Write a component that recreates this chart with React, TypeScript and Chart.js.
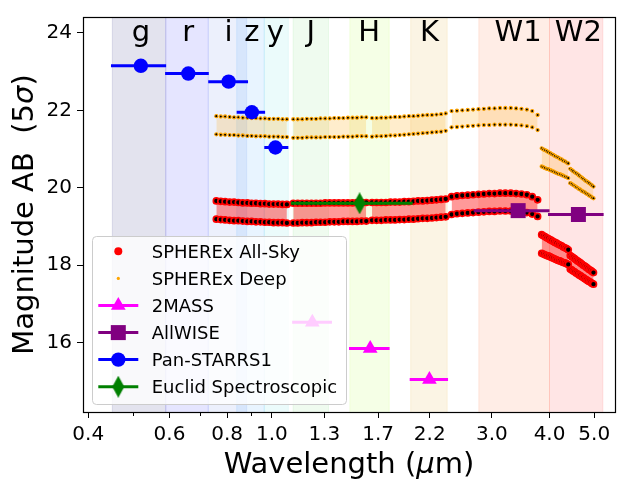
import React, { useEffect, useRef } from "react";
import { Chart, registerables } from "chart.js";

Chart.register(...registerables);

// ---------- axes ----------
const X_RANGE = [0.3896, 5.546];
const Y_RANGE = [14.21, 24.41];
const X_TICKS = [0.4, 0.6, 0.8, 1.0, 1.3, 1.7, 2.2, 3.0, 4.0, 5.0];
const X_MINOR_TICKS = [0.5, 0.7, 0.9];
const Y_TICKS = [16, 18, 20, 22, 24];
const X_TITLE = ["Wavelength (", "μ", "m)"];
const Y_TITLE = ["Magnitude AB  (5", "σ", ")"];

// ---------- filter bands ----------
const FILTER_NAMES = ["g", "r", "i", "z", "y", "J", "H", "K", "W1", "W2"];
const FILTER_LABEL_WL = [0.52, 0.659, 0.806, 0.905, 1.018, 1.215, 1.625, 2.196, 3.42, 4.62];
const FILTER_LABEL_MAG = 23.79;
const FILTER_LO = [0.451, 0.589, 0.728, 0.839, 0.963, 1.112, 1.476, 2.0, 2.81, 4.0];
const FILTER_HI = [0.589, 0.728, 0.882, 0.963, 1.086, 1.327, 1.797, 2.4, 4.0, 5.22];
const FILTER_COLORS = [
  "rgba(25,25,112,0.12)",
  "rgba(0,0,255,0.10)",
  "rgba(65,105,225,0.10)",
  "rgba(30,144,255,0.10)",
  "rgba(0,206,209,0.08)",
  "rgba(50,205,50,0.08)",
  "rgba(173,255,47,0.12)",
  "rgba(218,165,32,0.12)",
  "rgba(255,110,50,0.12)",
  "rgba(255,0,0,0.10)",
];

// ---------- photometric surveys ----------
const PS_WL = [0.52, 0.659, 0.806, 0.905, 1.018];
const PS_LO = [0.448, 0.587, 0.728, 0.839, 0.963];
const PS_HI = [0.59, 0.73, 0.888, 0.967, 1.086];
const PS_MAG = [23.15, 22.95, 22.74, 21.95, 21.04];

const TM_WL = [1.224, 1.634, 2.196];
const TM_LO = [1.107, 1.47, 1.99];
const TM_HI = [1.35, 1.8, 2.41];
const TM_MAG = [16.53, 15.85, 15.05];

const WISE_WL = [3.42, 4.62];
const WISE_LO = [2.74, 3.97];
const WISE_HI = [4.0, 5.24];
const WISE_MAG = [19.41, 19.31];

const EUCLID_WL = [1.55];
const EUCLID_LO = [1.1];
const EUCLID_HI = [2.02];
const EUCLID_MAG = [19.6];

// ---------- SPHEREx channels (6 bands x 17 channels) ----------
const SPX_WL = [
  [0.758, 0.775, 0.792, 0.81, 0.828, 0.846, 0.865, 0.885, 0.904, 0.924, 0.945, 0.966, 0.987, 1.009, 1.032, 1.055, 1.078],
  [1.113, 1.138, 1.164, 1.191, 1.219, 1.247, 1.275, 1.305, 1.335, 1.366, 1.397, 1.429, 1.462, 1.496, 1.53, 1.566, 1.602],
  [1.649, 1.687, 1.727, 1.767, 1.808, 1.85, 1.893, 1.937, 1.982, 2.028, 2.075, 2.124, 2.173, 2.224, 2.275, 2.328, 2.382],
  [2.453, 2.52, 2.588, 2.659, 2.731, 2.805, 2.882, 2.96, 3.04, 3.123, 3.208, 3.296, 3.385, 3.477, 3.572, 3.669, 3.769],
  [3.846, 3.878, 3.91, 3.943, 3.976, 4.009, 4.042, 4.076, 4.11, 4.144, 4.179, 4.214, 4.249, 4.284, 4.32, 4.356, 4.392],
  [4.436, 4.468, 4.501, 4.533, 4.566, 4.6, 4.633, 4.667, 4.701, 4.735, 4.77, 4.804, 4.839, 4.874, 4.91, 4.945, 4.981],
];

const ALLSKY_HI = [
  [19.66, 19.65, 19.64, 19.63, 19.63, 19.62, 19.61, 19.61, 19.6, 19.6, 19.59, 19.59, 19.58, 19.58, 19.58, 19.57, 19.57],
  [19.6, 19.6, 19.6, 19.6, 19.6, 19.6, 19.6, 19.61, 19.61, 19.61, 19.61, 19.61, 19.61, 19.61, 19.62, 19.62, 19.62],
  [19.62, 19.62, 19.62, 19.62, 19.63, 19.63, 19.63, 19.64, 19.64, 19.65, 19.66, 19.66, 19.67, 19.68, 19.69, 19.7, 19.71],
  [19.77, 19.79, 19.8, 19.81, 19.82, 19.83, 19.84, 19.85, 19.85, 19.86, 19.86, 19.86, 19.85, 19.84, 19.82, 19.77, 19.69],
  [18.79, 18.76, 18.74, 18.71, 18.69, 18.66, 18.64, 18.61, 18.59, 18.57, 18.54, 18.52, 18.5, 18.47, 18.45, 18.43, 18.4],
  [18.25, 18.22, 18.2, 18.17, 18.14, 18.11, 18.09, 18.06, 18.03, 18.0, 17.98, 17.95, 17.92, 17.89, 17.87, 17.84, 17.81],
];
const ALLSKY_LO = [
  [19.19, 19.18, 19.17, 19.16, 19.15, 19.15, 19.14, 19.13, 19.13, 19.12, 19.12, 19.11, 19.11, 19.1, 19.1, 19.1, 19.09],
  [19.09, 19.09, 19.1, 19.1, 19.1, 19.11, 19.11, 19.11, 19.12, 19.12, 19.12, 19.13, 19.13, 19.13, 19.13, 19.14, 19.14],
  [19.16, 19.16, 19.16, 19.17, 19.17, 19.17, 19.18, 19.18, 19.19, 19.19, 19.2, 19.21, 19.21, 19.22, 19.23, 19.24, 19.25],
  [19.31, 19.33, 19.34, 19.35, 19.36, 19.37, 19.38, 19.39, 19.39, 19.4, 19.4, 19.4, 19.39, 19.38, 19.36, 19.32, 19.26],
  [18.31, 18.29, 18.27, 18.25, 18.24, 18.22, 18.2, 18.18, 18.16, 18.14, 18.12, 18.11, 18.09, 18.07, 18.06, 18.04, 18.02],
  [17.9, 17.88, 17.85, 17.83, 17.8, 17.78, 17.75, 17.73, 17.7, 17.68, 17.65, 17.63, 17.6, 17.58, 17.56, 17.53, 17.51],
];
const DEEP_HI = [
  [21.85, 21.84, 21.84, 21.83, 21.82, 21.82, 21.81, 21.81, 21.8, 21.8, 21.79, 21.79, 21.78, 21.78, 21.78, 21.77, 21.77],
  [21.77, 21.77, 21.77, 21.78, 21.78, 21.78, 21.79, 21.79, 21.79, 21.8, 21.8, 21.8, 21.81, 21.81, 21.81, 21.82, 21.82],
  [21.8, 21.8, 21.81, 21.81, 21.82, 21.83, 21.83, 21.84, 21.85, 21.85, 21.86, 21.87, 21.88, 21.88, 21.89, 21.9, 21.92],
  [21.98, 21.99, 22.0, 22.01, 22.02, 22.03, 22.04, 22.05, 22.05, 22.06, 22.06, 22.06, 22.05, 22.04, 22.02, 21.98, 21.88],
  [21.02, 20.99, 20.97, 20.95, 20.92, 20.9, 20.87, 20.85, 20.82, 20.8, 20.78, 20.75, 20.73, 20.7, 20.68, 20.65, 20.63],
  [20.49, 20.46, 20.43, 20.4, 20.38, 20.35, 20.32, 20.29, 20.26, 20.23, 20.2, 20.17, 20.15, 20.12, 20.09, 20.06, 20.03],
];
const DEEP_LO = [
  [21.38, 21.37, 21.37, 21.36, 21.36, 21.35, 21.35, 21.34, 21.34, 21.33, 21.33, 21.33, 21.32, 21.32, 21.32, 21.31, 21.31],
  [21.29, 21.29, 21.29, 21.3, 21.3, 21.3, 21.3, 21.31, 21.31, 21.31, 21.31, 21.32, 21.32, 21.32, 21.33, 21.33, 21.33],
  [21.32, 21.33, 21.33, 21.34, 21.35, 21.35, 21.36, 21.37, 21.38, 21.39, 21.4, 21.41, 21.42, 21.43, 21.44, 21.45, 21.47],
  [21.56, 21.57, 21.58, 21.59, 21.6, 21.61, 21.62, 21.62, 21.63, 21.63, 21.63, 21.63, 21.62, 21.61, 21.59, 21.56, 21.49],
  [20.55, 20.53, 20.51, 20.49, 20.48, 20.46, 20.44, 20.42, 20.4, 20.38, 20.36, 20.35, 20.33, 20.31, 20.29, 20.27, 20.25],
  [20.12, 20.1, 20.07, 20.05, 20.02, 20.0, 19.97, 19.95, 19.92, 19.9, 19.88, 19.85, 19.83, 19.8, 19.78, 19.75, 19.73],
];

const LEGEND_LABELS = [
  "SPHEREx All-Sky",
  "SPHEREx Deep",
  "2MASS",
  "AllWISE",
  "Pan-STARRS1",
  "Euclid Spectroscopic",
];

// ---------- styles ----------
const FONT = "DejaVu Sans";
const C_ALLSKY = "#ff0000";
const C_DEEP = "#ffa500";
const C_TM = "#ff00ff";
const C_WISE = "#800080";
const C_PS = "#0000ff";
const C_EUCLID = "#008000";

function makeDiamond(w: number, h: number, color: string) {
  const c = document.createElement("canvas");
  c.width = w;
  c.height = h;
  const g = c.getContext("2d")!;
  g.fillStyle = color;
  g.beginPath();
  g.moveTo(w / 2, 0);
  g.lineTo(w, h / 2);
  g.lineTo(w / 2, h);
  g.lineTo(0, h / 2);
  g.closePath();
  g.fill();
  return c;
}

function drawMarker(ctx: CanvasRenderingContext2D, kind: string, x: number, y: number, color: string, diamond?: HTMLCanvasElement) {
  ctx.save();
  ctx.fillStyle = color;
  ctx.beginPath();
  if (kind === "circle") {
    ctx.arc(x, y, 7.2, 0, Math.PI * 2);
    ctx.fill();
  } else if (kind === "triangle") {
    const r = 8.5;
    let a = 0;
    ctx.moveTo(x + Math.sin(a) * r, y - Math.cos(a) * r);
    a += (2 * Math.PI) / 3;
    ctx.lineTo(x + Math.sin(a) * r, y - Math.cos(a) * r);
    a += (2 * Math.PI) / 3;
    ctx.lineTo(x + Math.sin(a) * r, y - Math.cos(a) * r);
    ctx.closePath();
    ctx.fill();
  } else if (kind === "rect") {
    ctx.fillRect(x - 7.5, y - 7.5, 15, 15);
  } else if (kind === "diamond" && diamond) {
    ctx.drawImage(diamond, x - diamond.width / 2, y - diamond.height / 2);
  }
  ctx.restore();
}

function drawParts(ctx: CanvasRenderingContext2D, parts: string[], size: number, cx: number, cy: number) {
  const fonts = parts.map((_, i) => (i === 1 ? `italic ${size}px ${FONT}` : `${size}px ${FONT}`));
  let total = 0;
  const widths = parts.map((p, i) => {
    ctx.font = fonts[i];
    const w = ctx.measureText(p).width;
    total += w;
    return w;
  });
  let x = cx - total / 2;
  ctx.textBaseline = "alphabetic";
  ctx.textAlign = "left";
  parts.forEach((p, i) => {
    ctx.font = fonts[i];
    ctx.fillText(p, x, cy);
    x += widths[i];
  });
}

export default function App() {
  const ref = useRef<HTMLCanvasElement>(null);

  useEffect(() => {
    document.body.style.margin = "0";
    const canvas = ref.current!;
    const diamond = makeDiamond(12, 22, C_EUCLID);

    const datasets: any[] = [];
    // SPHEREx Deep
    for (let b = 0; b < SPX_WL.length; b++) {
      datasets.push({
        data: SPX_WL[b].map((x, i) => ({ x, y: DEEP_HI[b][i] })),
        borderColor: "transparent",
        backgroundColor: "rgba(255,165,0,0.2)",
        fill: "+1",
        pointRadius: 1.6,
        pointBorderWidth: 1.1,
        pointBackgroundColor: "#000",
        pointBorderColor: C_DEEP,
        order: 20,
      });
      datasets.push({
        data: SPX_WL[b].map((x, i) => ({ x, y: DEEP_LO[b][i] })),
        borderColor: "transparent",
        fill: false,
        pointRadius: 1.6,
        pointBorderWidth: 1.1,
        pointBackgroundColor: "#000",
        pointBorderColor: C_DEEP,
        order: 20,
      });
    }
    // SPHEREx All-Sky
    for (let b = 0; b < SPX_WL.length; b++) {
      datasets.push({
        data: SPX_WL[b].map((x, i) => ({ x, y: ALLSKY_HI[b][i] })),
        borderColor: "transparent",
        backgroundColor: "rgba(255,0,0,0.4)",
        fill: "+1",
        pointRadius: 3.0,
        pointBorderWidth: 1.7,
        pointBackgroundColor: "#000",
        pointBorderColor: C_ALLSKY,
        order: 15,
      });
      datasets.push({
        data: SPX_WL[b].map((x, i) => ({ x, y: ALLSKY_LO[b][i] })),
        borderColor: "transparent",
        fill: false,
        pointRadius: 3.0,
        pointBorderWidth: 1.7,
        pointBackgroundColor: "#000",
        pointBorderColor: C_ALLSKY,
        order: 15,
      });
    }
    // error bars + markers
    const surveys = [
      { wl: EUCLID_WL, lo: EUCLID_LO, hi: EUCLID_HI, mag: EUCLID_MAG, color: C_EUCLID, style: diamond as any, radius: 11, barOrder: 10 },
      { wl: TM_WL, lo: TM_LO, hi: TM_HI, mag: TM_MAG, color: C_TM, style: "triangle", radius: 8.5, barOrder: 5 },
      { wl: WISE_WL, lo: WISE_LO, hi: WISE_HI, mag: WISE_MAG, color: C_WISE, style: "rect", radius: 10.6, barOrder: 5 },
      { wl: PS_WL, lo: PS_LO, hi: PS_HI, mag: PS_MAG, color: C_PS, style: "circle", radius: 7.2, barOrder: 5 },
    ];
    surveys.forEach((s) => {
      s.wl.forEach((_, i) => {
        datasets.push({
          data: [
            { x: s.lo[i], y: s.mag[i] },
            { x: s.hi[i], y: s.mag[i] },
          ],
          borderColor: s.color,
          borderWidth: 3,
          pointRadius: 0,
          fill: false,
          order: s.barOrder,
        });
      });
      datasets.push({
        data: s.wl.map((x, i) => ({ x, y: s.mag[i] })),
        showLine: false,
        borderColor: "transparent",
        pointStyle: s.style,
        pointRadius: s.radius,
        pointBorderWidth: 0,
        pointBackgroundColor: s.color,
        pointBorderColor: s.color,
        fill: false,
        order: 1,
      });
    });

    const decor = {
      id: "decor",
      beforeDraw(chart: any) {
        const { ctx, chartArea: a, scales } = chart;
        const xs = scales.x;
        ctx.save();
        ctx.beginPath();
        ctx.rect(a.left, a.top, a.right - a.left, a.bottom - a.top);
        ctx.clip();
        FILTER_LO.forEach((lo, i) => {
          const x0 = xs.getPixelForValue(lo);
          const x1 = xs.getPixelForValue(FILTER_HI[i]);
          ctx.fillStyle = FILTER_COLORS[i];
          ctx.fillRect(x0, a.top, x1 - x0, a.bottom - a.top);
          ctx.strokeStyle = FILTER_COLORS[i];
          ctx.lineWidth = 1;
          ctx.beginPath();
          ctx.moveTo(x0, a.top);
          ctx.lineTo(x0, a.bottom);
          ctx.moveTo(x1, a.top);
          ctx.lineTo(x1, a.bottom);
          ctx.stroke();
        });
        ctx.restore();
      },
      afterDatasetsDraw(chart: any) {
        const { ctx, scales } = chart;
        const xs = scales.x;
        const ys = scales.y;
        // filter names
        ctx.save();
        ctx.fillStyle = "#000";
        ctx.font = `29px ${FONT}`;
        ctx.textAlign = "center";
        ctx.textBaseline = "alphabetic";
        FILTER_NAMES.forEach((n, i) => {
          ctx.fillText(n, xs.getPixelForValue(FILTER_LABEL_WL[i]), ys.getPixelForValue(FILTER_LABEL_MAG));
        });
        ctx.restore();

        // legend
        ctx.save();
        const lx = 92.5, ly = 236.5, lw = 254, lh = 168;
        ctx.beginPath();
        (ctx as any).roundRect(lx, ly, lw, lh, 4);
        ctx.fillStyle = "rgba(255,255,255,0.8)";
        ctx.fill();
        ctx.strokeStyle = "#cccccc";
        ctx.lineWidth = 1;
        ctx.stroke();
        const rows = [251.3, 278.4, 305.6, 332.6, 359.6, 386.7];
        const hx0 = 98.3, hx1 = 138.3, hc = 118.3;
        // All-Sky
        ctx.fillStyle = C_ALLSKY;
        ctx.beginPath();
        ctx.arc(hc, rows[0], 4, 0, Math.PI * 2);
        ctx.fill();
        // Deep
        ctx.fillStyle = C_DEEP;
        ctx.beginPath();
        ctx.arc(hc, rows[1], 1.6, 0, Math.PI * 2);
        ctx.fill();
        const lineRows: [number, string, string][] = [
          [2, C_TM, "triangle"],
          [3, C_WISE, "rect"],
          [4, C_PS, "circle"],
          [5, C_EUCLID, "diamond"],
        ];
        lineRows.forEach(([r, c, k]) => {
          ctx.strokeStyle = c;
          ctx.lineWidth = 3;
          ctx.beginPath();
          ctx.moveTo(hx0, rows[r]);
          ctx.lineTo(hx1, rows[r]);
          ctx.stroke();
          drawMarker(ctx, k, hc, rows[r], c, diamond);
        });
        ctx.fillStyle = "#000";
        ctx.font = `18px ${FONT}`;
        ctx.textAlign = "left";
        ctx.textBaseline = "alphabetic";
        LEGEND_LABELS.forEach((t, i) => ctx.fillText(t, 151.7, rows[i] + 6.6));
        ctx.restore();
      },
      afterDraw(chart: any) {
        const { ctx, chartArea: a, scales } = chart;
        const xs = scales.x;
        ctx.save();
        // frame
        ctx.strokeStyle = "#000";
        ctx.lineWidth = 1.2;
        ctx.strokeRect(Math.round(a.left) + 0.5, Math.round(a.top) + 0.5, Math.round(a.right - a.left), Math.round(a.bottom - a.top));
        // minor ticks
        ctx.lineWidth = 1;
        ctx.beginPath();
        X_MINOR_TICKS.forEach((v) => {
          const px = Math.round(xs.getPixelForValue(v)) + 0.5;
          ctx.moveTo(px, a.bottom);
          ctx.lineTo(px, a.bottom + 4);
        });
        ctx.stroke();
        // titles
        ctx.fillStyle = "#000";
        drawParts(ctx, X_TITLE, 29, (a.left + a.right) / 2, 473);
        ctx.translate(33, (a.top + a.bottom) / 2);
        ctx.rotate(-Math.PI / 2);
        drawParts(ctx, Y_TITLE, 29, 0, 0);
        ctx.restore();
      },
    };

    const chart = new Chart(canvas, {
      type: "line",
      data: { datasets },
      options: {
        responsive: false,
        animation: false,
        devicePixelRatio: 1,
        events: [],
        layout: { padding: { top: 14, right: 25, left: 0, bottom: 0 } },
        plugins: {
          legend: { display: false },
          tooltip: { enabled: false },
          filler: { drawTime: "beforeDatasetsDraw" },
        } as any,
        scales: {
          x: {
            type: "logarithmic",
            min: X_RANGE[0],
            max: X_RANGE[1],
            afterBuildTicks: (s: any) => {
              s.ticks = X_TICKS.map((v) => ({ value: v }));
            },
            afterFit: (s: any) => {
              s.height = 68;
            },
            ticks: {
              autoSkip: false,
              maxRotation: 0,
              minRotation: 0,
              padding: 5,
              color: "#000",
              font: { family: FONT, size: 20 },
              callback: (v: any) => Number(v).toFixed(1),
            },
            grid: { drawOnChartArea: false, drawTicks: true, tickLength: 6, color: "#000", tickWidth: 1 },
            border: { display: false },
          } as any,
          y: {
            type: "linear",
            min: Y_RANGE[0],
            max: Y_RANGE[1],
            afterBuildTicks: (s: any) => {
              s.ticks = Y_TICKS.map((v) => ({ value: v }));
            },
            afterFit: (s: any) => {
              s.width = 83;
            },
            ticks: {
              padding: 5,
              color: "#000",
              font: { family: FONT, size: 20 },
              callback: (v: any) => String(v),
            },
            grid: { drawOnChartArea: false, drawTicks: true, tickLength: 6, color: "#000", tickWidth: 1 },
            border: { display: false },
          } as any,
        },
      },
      plugins: [decor],
    });
    return () => chart.destroy();
  }, []);

  return <canvas ref={ref} width={640} height={480} style={{ display: "block", width: 640, height: 480 }} />;
}
